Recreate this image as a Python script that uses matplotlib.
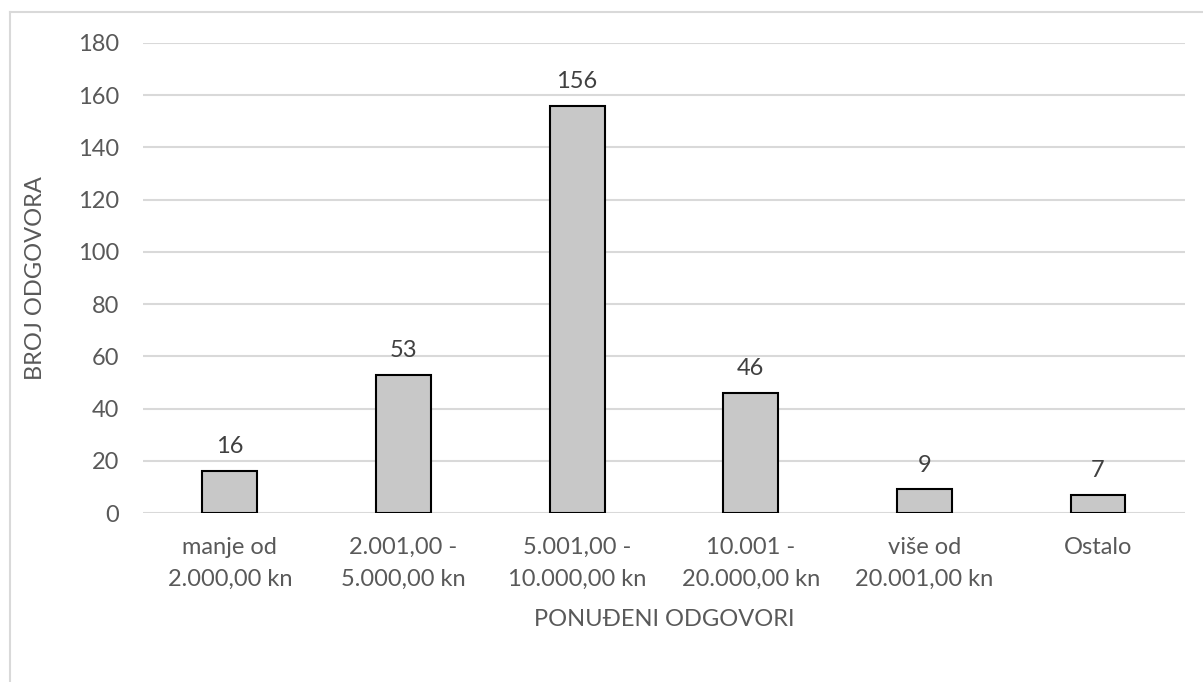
import matplotlib.pyplot as plt
from matplotlib.lines import Line2D

# Podaci
kategorije = ['manje od\n2.000,00 kn', '2.001,00 -\n5.000,00 kn', '5.001,00 -\n10.000,00 kn',
              '10.001 -\n20.000,00 kn', 'više od\n20.001,00 kn', 'Ostalo']
odgovori = [16, 53, 156, 46, 9, 7]
y_ticks = [0, 20, 40, 60, 80, 100, 120, 140, 160, 180]

plt.rcParams['font.family'] = ['Lato', 'DejaVu Sans']
siva_tekst = '#595959'

fig = plt.figure(figsize=(12.03, 6.82), dpi=100)
ax = fig.add_axes([0.1189, 0.2478, 0.866, 0.6892])

x = range(len(kategorije))
bars = ax.bar(x, odgovori, width=0.316, color='#C8C8C8', edgecolor='black', linewidth=1.5, zorder=3)

for b, v in zip(bars, odgovori):
    ax.annotate(str(v), (b.get_x() + b.get_width() / 2, v), xytext=(0, 10), textcoords='offset points',
                ha='center', va='bottom', fontsize=17, color='#404040')

ax.set_xlim(-0.5, len(kategorije) - 0.5)
ax.set_ylim(0, 180)
ax.set_yticks(y_ticks)
ax.set_xticks(list(x))
ax.set_xticklabels(kategorije, fontsize=17, color=siva_tekst, linespacing=1.65)
ax.tick_params(axis='y', labelsize=17, labelcolor=siva_tekst, length=0, pad=17)
ax.tick_params(axis='x', length=0, pad=17)
ax.grid(axis='y', color='#D9D9D9', linewidth=1.5, zorder=0)
for s in ax.spines.values():
    s.set_visible(False)

ax.set_xlabel('PONUĐENI ODGOVORI', fontsize=17, color=siva_tekst, labelpad=14)
ax.set_ylabel('BROJ ODGOVORA', fontsize=17, color=siva_tekst, labelpad=23)

# okvir grafikona (lijevo i gore)
fig.add_artist(Line2D([10 / 1203, 10 / 1203], [0, 1 - 12 / 682], color='#D9D9D9', linewidth=1.5))
fig.add_artist(Line2D([10 / 1203, 1], [1 - 12 / 682, 1 - 12 / 682], color='#D9D9D9', linewidth=1.5))

fig.savefig('out.png', dpi=100)
